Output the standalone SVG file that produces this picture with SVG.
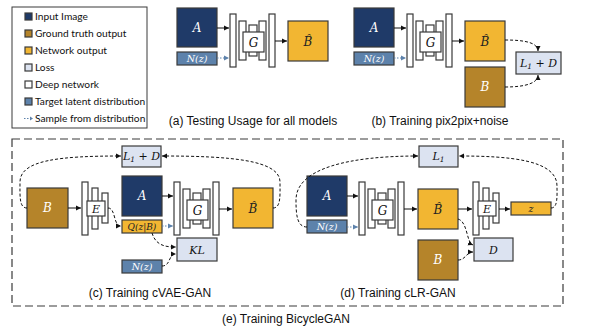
<svg xmlns="http://www.w3.org/2000/svg" xmlns:xlink="http://www.w3.org/1999/xlink" width="604" height="336" viewBox="0 0 604 336">
<style>
.bx{stroke:#3a3a3a;stroke-width:1.2}
.inp{fill:#1f3a68}
.gt{fill:#b5842a}
.net{fill:#f2b632}
.loss{fill:#dce3f1}
.lat{fill:#5d82ab}
.wh{fill:#ffffff;stroke:#3a3a3a;stroke-width:1.2}
.mt{font-family:"DejaVu Serif","Liberation Serif",serif;font-style:italic;text-anchor:middle}
.lg{font-family:Lato,"Liberation Sans",sans-serif;font-size:10.2px;fill:#111}
.cap{font-family:"Liberation Sans",Arial,sans-serif;font-size:12px;fill:#111;text-anchor:middle}
.sol{fill:none;stroke:#111;stroke-width:1;marker-end:url(#ah)}
.dsh{fill:none;stroke:#111;stroke-width:1;stroke-dasharray:3,2;marker-end:url(#ah)}
.dot{fill:none;stroke:#5d82ab;stroke-width:1.2;stroke-dasharray:1.5,1.5;marker-end:url(#ahb)}
</style>
<defs>
<marker id="ah" markerWidth="6" markerHeight="6" refX="5" refY="3" orient="auto" markerUnits="userSpaceOnUse"><path d="M0,0.5 L5,3 L0,5.5 Z" fill="#111"/></marker>
<marker id="ahb" markerWidth="6" markerHeight="6" refX="5" refY="3" orient="auto" markerUnits="userSpaceOnUse"><path d="M0,0.5 L5,3 L0,5.5 Z" fill="#5d82ab"/></marker>
<g id="gen">
<rect class="wh" x="0" y="0" width="6" height="53"/>
<rect class="wh" x="9" y="7" width="7" height="39"/>
<rect class="wh" x="19" y="11" width="8" height="31"/>
<rect class="wh" x="29" y="7" width="7" height="39"/>
<rect class="wh" x="39" y="0" width="6" height="53"/>
<rect class="wh" x="13" y="18" width="21" height="20"/>
<text class="mt" x="23.5" y="33" font-size="12" fill="#111">G</text>
</g>
<g id="enc">
<rect class="wh" x="0" y="0" width="6" height="53"/>
<rect class="wh" x="10" y="6" width="6" height="41"/>
<rect class="wh" x="20" y="11" width="6" height="30"/>
<rect class="wh" x="5" y="19" width="18" height="15"/>
<text class="mt" x="14" y="31" font-size="11" fill="#111">E</text>
</g>
</defs>
<rect width="604" height="336" fill="#ffffff"/>

<g id="legend">
<rect x="12" y="7" width="135" height="121" fill="#fff" stroke="#3a3a3a" stroke-width="1"/>
<rect class="bx inp" x="25" y="13" width="7" height="7"/><text class="lg" x="35" y="20">Input Image</text>
<rect class="bx gt" x="25" y="30" width="7" height="7"/><text class="lg" x="35" y="37">Ground truth output</text>
<rect class="bx net" x="25" y="47" width="7" height="7"/><text class="lg" x="35" y="54">Network output</text>
<rect class="bx loss" x="25" y="64" width="7" height="7"/><text class="lg" x="35" y="71">Loss</text>
<rect class="bx" fill="#fff" x="25" y="81" width="7" height="7"/><text class="lg" x="35" y="88">Deep network</text>
<rect class="bx lat" x="25" y="98" width="7" height="7"/><text class="lg" x="35" y="105">Target latent distribution</text>
<path d="M24,118.5 L32,118.5" fill="none" stroke="#5d82ab" stroke-width="1" stroke-dasharray="1.5,1.5"/><path d="M30,116.5 L33,118.5 L30,120.5Z" fill="#5d82ab"/><text class="lg" x="35" y="122">Sample from distribution</text>
</g>

<!-- (a) -->
<g id="a-A"><rect class="bx inp" x="177" y="8" width="40" height="39"/><text class="mt" x="197" y="32" font-size="12" fill="#fff">A</text></g>
<g id="a-N"><rect class="bx lat" x="177" y="52" width="40" height="13"/><text class="mt" x="197" y="62" font-size="9.5" fill="#fff">N(z)</text></g>
<g id="a-G"><use xlink:href="#gen" x="230" y="14"/></g>
<g id="a-Bh"><rect class="bx net" x="288" y="21" width="40" height="40"/><text class="mt" x="308" y="46" font-size="12" fill="#222">B̂</text></g>
<text class="cap" x="253" y="125">(a) Testing Usage for all models</text>

<!-- (b) -->
<g id="b-A"><rect class="bx inp" x="354" y="8" width="40" height="39"/><text class="mt" x="374" y="32" font-size="12" fill="#fff">A</text></g>
<g id="b-N"><rect class="bx lat" x="354" y="52" width="40" height="13"/><text class="mt" x="374" y="62" font-size="9.5" fill="#fff">N(z)</text></g>
<g id="b-G"><use xlink:href="#gen" x="407" y="14"/></g>
<g id="b-Bh"><rect class="bx net" x="465" y="21" width="40" height="40"/><text class="mt" x="485" y="46" font-size="12" fill="#222">B̂</text></g>
<g id="b-B"><rect class="bx gt" x="465" y="67" width="40" height="40"/><text class="mt" x="485" y="91" font-size="12" fill="#fff">B</text></g>
<g id="b-L"><rect class="bx loss" x="516" y="52" width="45" height="22"/><text class="mt" x="538.5" y="67" font-size="11" fill="#111">L<tspan font-size="7.5" dy="2">1</tspan><tspan dy="-2"> + D</tspan></text></g>
<text class="cap" x="440" y="125">(b) Training pix2pix+noise</text>

<!-- (e) frame -->
<rect x="12" y="139" width="551" height="167" fill="none" stroke="#3a3a3a" stroke-width="1.2" stroke-dasharray="8,4"/>

<!-- (c) -->
<g id="c-L"><rect class="bx loss" x="122" y="146" width="39" height="21" /><text class="mt" x="141.5" y="160" font-size="11" fill="#111">L<tspan font-size="7.5" dy="2">1</tspan><tspan dy="-2"> + D</tspan></text></g>
<g id="c-B"><rect class="bx gt" x="27" y="188" width="41" height="40"/><text class="mt" x="47.5" y="212" font-size="12" fill="#fff">B</text></g>
<g id="c-E"><use xlink:href="#enc" x="82" y="182"/></g>
<g id="c-A"><rect class="bx inp" x="122" y="176" width="40" height="40"/><text class="mt" x="142" y="200" font-size="12" fill="#fff">A</text></g>
<g id="c-Q"><rect class="bx net" x="122" y="220" width="40" height="13"/><text class="mt" x="142" y="230" font-size="9" fill="#222">Q(z|B)</text></g>
<g id="c-N"><rect class="bx lat" x="122" y="260" width="40" height="13"/><text class="mt" x="142" y="270" font-size="9.5" fill="#fff">N(z)</text></g>
<g id="c-KL"><rect class="bx loss" x="177" y="238" width="40" height="23"/><text class="mt" x="197" y="254" font-size="11" fill="#111">KL</text></g>
<g id="c-G"><use xlink:href="#gen" x="174" y="182"/></g>
<g id="c-Bh"><rect class="bx net" x="233" y="188" width="40" height="40"/><text class="mt" x="253" y="213" font-size="12" fill="#222">B̂</text></g>
<text class="cap" x="150" y="297">(c) Training cVAE-GAN</text>

<!-- (d) -->
<g id="d-L"><rect class="bx loss" x="419" y="146" width="39" height="21"/><text class="mt" x="438.5" y="160" font-size="11" fill="#111">L<tspan font-size="7.5" dy="2">1</tspan></text></g>
<g id="d-A"><rect class="bx inp" x="307" y="176" width="40" height="40"/><text class="mt" x="327" y="200" font-size="12" fill="#fff">A</text></g>
<g id="d-N"><rect class="bx lat" x="307" y="220" width="40" height="13"/><text class="mt" x="327" y="230" font-size="9.5" fill="#fff">N(z)</text></g>
<g id="d-G"><use xlink:href="#gen" x="359" y="182"/></g>
<g id="d-Bh"><rect class="bx net" x="418" y="189" width="40" height="40"/><text class="mt" x="438" y="214" font-size="12" fill="#222">B̂</text></g>
<g id="d-B"><rect class="bx gt" x="418" y="240" width="40" height="40"/><text class="mt" x="438" y="264" font-size="12" fill="#fff">B</text></g>
<g id="d-E"><use xlink:href="#enc" x="473" y="182"/></g>
<g id="d-z"><rect class="bx net" x="511" y="202" width="40" height="13"/><text class="mt" x="531" y="212" font-size="9.5" fill="#222">z</text></g>
<g id="d-D"><rect class="bx loss" x="474" y="238" width="39" height="23"/><text class="mt" x="493.5" y="254" font-size="11" fill="#111">D</text></g>
<text class="cap" x="398" y="297">(d) Training cLR-GAN</text>

<text class="cap" x="286" y="323">(e) Training BicycleGAN</text>

<g id="connectors">
<!-- a -->
<path class="sol" d="M217,28 L229,28"/>
<path class="dot" d="M217,58 L229,58"/>
<path class="sol" d="M275,41 L287,41"/>
<!-- b -->
<path class="sol" d="M394,28 L406,28"/>
<path class="dot" d="M394,58 L406,58"/>
<path class="sol" d="M452,41 L464,41"/>
<path class="dsh" d="M505,40 C526,40 538,43 538,51"/>
<path class="dsh" d="M505,87 C526,87 538,83 538,75"/>
<!-- c -->
<path class="sol" d="M68,208 L81,208"/>
<path class="sol" d="M162,196 L173,196"/>
<path class="dot" d="M162,226 L173,226"/>
<path class="sol" d="M219,209 L232,209"/>
<path class="dsh" d="M108,208 C116,208 113,226 121,226"/>
<path class="dsh" d="M152,233 C156,246 166,247 176,247"/>
<path class="dsh" d="M162,266 C171,266 168,254 176,254"/>
<path class="dsh" d="M27,208 C19,208 20,196 20,182 C20,160 60,156 121,156"/>
<path class="dsh" d="M273,208 C281,208 280,196 280,182 C280,160 230,156 162,156"/>
<!-- d -->
<path class="sol" d="M347,196 L358,196"/>
<path class="dot" d="M347,227 L358,227"/>
<path class="sol" d="M404,209 L417,209"/>
<path class="sol" d="M458,209 L472,209"/>
<path class="sol" d="M499,209 L510,209"/>
<path class="dsh" d="M458,219 C468,222 466,242 473,245"/>
<path class="dsh" d="M458,260 C466,260 466,252 473,252"/>
<path class="dsh" d="M551,208 C558,208 557,196 557,186 C557,160 510,156 459,156"/>
<path class="dsh" d="M307,227 C297,227 296,215 296,200 C296,168 350,156 418,156"/>
</g>
</svg>
